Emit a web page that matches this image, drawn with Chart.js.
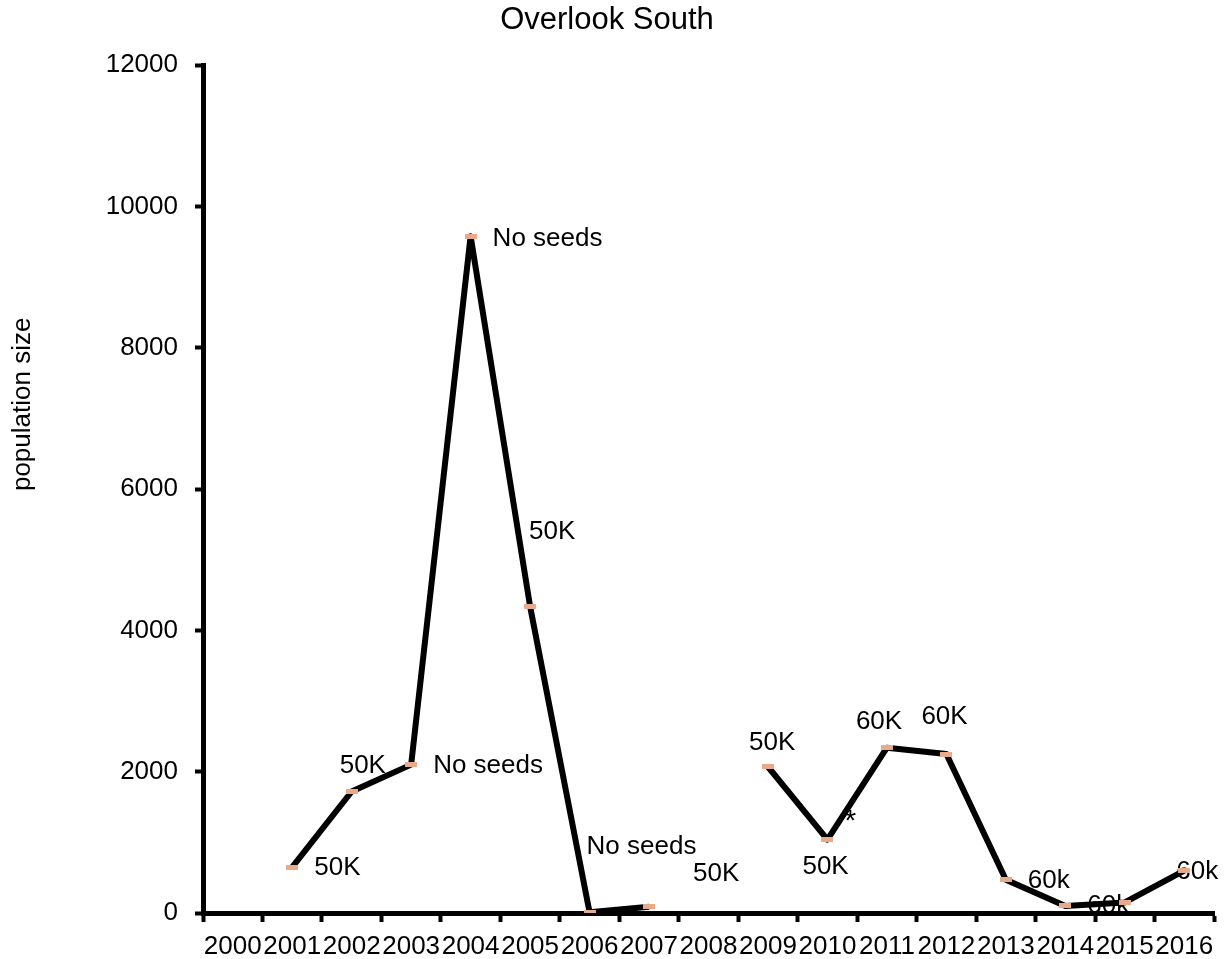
<!DOCTYPE html>
<html lang="en">
<head>
<meta charset="UTF-8" />
<title>Overlook South</title>
<style>
  body {
    margin: 0;
    background: #fff;
  }
  #wrap {
    width: 1231px;
    height: 959px;
    position: relative;
  }
</style>
</head>
<body>

<div id="wrap"><canvas id="chart"></canvas></div>

<script src="https://cdn.jsdelivr.net/npm/chart.js"></script>
<script>
// data
const years = ['2000', '2001', '2002', '2003', '2004', '2005', '2006', '2007', '2008',
  '2009', '2010', '2011', '2012', '2013', '2014', '2015', '2016'];
const population = [null, 650, 1720, 2100, 9580, 4340, 10, 90, null,
  2070, 1040, 2340, 2250, 470, 100, 150, 600];
const seedNotes = ['', '50K', '50K', 'No seeds', 'No seeds', '50K', 'No seeds', '50K', '',
  '50K', '50K', '60K', '60K', '60k', '60k', '', '60k'];
const flagNotes = ['', '', '', '', '', '', '', '', '',
  '', '*', '', '', '', '', '', ''];
const yTicks = [0, 2000, 4000, 6000, 8000, 10000, 12000];

// where each note sits relative to its point (px)
const noteOffsets = {
  1: [22, 1], 2: [-12, -26], 3: [22, 1], 4: [22, 3], 5: [-1, -75],
  6: [-3, -65], 7: [44, -33], 9: [-19, -24], 10: [-25, 27], 11: [-31, -26],
  12: [-25, -37], 13: [22, 1], 14: [22, 0], 16: [-8, 1]
};
const flagOffset = [23, -18];

const FONT = "'Liberation Sans', Arial, sans-serif";
Chart.defaults.font.family = FONT;
Chart.defaults.color = '#000';

// little salmon dash used as the point marker
const dash = document.createElement('canvas');
dash.width = 12;
dash.height = 5;
const dctx = dash.getContext('2d');
dctx.fillStyle = '#E9AA8C';
dctx.fillRect(0, 0, 12, 5);

const notesPlugin = {
  id: 'notes',
  beforeDatasetsDraw(chart) {
    const ctx = chart.ctx;
    const pts = chart.getDatasetMeta(0).data;
    const y = chart.scales.y;
    ctx.save();
    ctx.font = '26px ' + FONT;
    ctx.fillStyle = '#000';
    ctx.textBaseline = 'middle';
    seedNotes.forEach((txt, i) => {
      if (!txt || !noteOffsets[i]) return;
      ctx.textAlign = 'left';
      ctx.fillText(txt, pts[i].x + noteOffsets[i][0], y.getPixelForValue(population[i]) + noteOffsets[i][1]);
    });
    flagNotes.forEach((txt, i) => {
      if (!txt) return;
      ctx.textAlign = 'center';
      ctx.font = '30px ' + FONT;
      ctx.fillText(txt, pts[i].x + flagOffset[0], y.getPixelForValue(population[i]) + flagOffset[1]);
    });
    ctx.restore();
  },
  afterDraw(chart) {
    // y axis title, drawn by hand so it can sit a bit above centre like the original
    const ctx = chart.ctx;
    const area = chart.chartArea;
    ctx.save();
    ctx.font = '26px ' + FONT;
    ctx.fillStyle = '#000';
    ctx.textAlign = 'center';
    ctx.textBaseline = 'middle';
    ctx.translate(23, area.top + (area.bottom - area.top) * 0.4);
    ctx.rotate(-Math.PI / 2);
    ctx.fillText('population size', 0, 0);
    ctx.restore();
  }
};

new Chart(document.getElementById('chart'), {
  type: 'line',
  data: {
    labels: years,
    datasets: [{
      data: population,
      borderColor: '#000',
      borderWidth: 6,
      borderJoinStyle: 'round',
      tension: 0,
      spanGaps: false,
      pointStyle: dash,
      pointRadius: 6,
      pointHoverRadius: 6
    }]
  },
  options: {
    responsive: true,
    maintainAspectRatio: false,
    animation: false,
    layout: { padding: { left: 0, right: 17, top: 0, bottom: 0 } },
    plugins: {
      legend: { display: false },
      tooltip: { enabled: false },
      title: {
        display: true,
        text: 'Overlook South',
        color: '#000',
        font: { size: 31, weight: 'normal' },
        padding: { top: 2, bottom: 26 }
      }
    },
    scales: {
      x: {
        type: 'category',
        offset: true,
        afterFit(scale) {
          scale.height = 46;
        },
        grid: {
          offset: true,
          drawOnChartArea: false,
          drawTicks: true,
          tickLength: 9,
          tickWidth: 4,
          tickColor: '#000'
        },
        border: { display: true, color: '#000', width: 5 },
        ticks: {
          autoSkip: false,
          maxRotation: 0,
          minRotation: 0,
          padding: 17,
          font: { size: 26, lineHeight: 0.6 },
          color: '#000'
        }
      },
      y: {
        min: 0,
        max: 12000,
        afterBuildTicks(scale) {
          scale.ticks = yTicks.map(v => ({ value: v }));
        },
        afterFit(scale) {
          // leave room on the left for the hand-drawn axis title
          scale.width = 203;
        },
        grid: {
          drawOnChartArea: false,
          drawTicks: true,
          tickLength: 8,
          tickWidth: 4,
          tickColor: '#000'
        },
        border: { display: true, color: '#000', width: 5 },
        ticks: {
          padding: 17,
          font: { size: 26 },
          color: '#000',
          callback: v => String(v)
        }
      }
    }
  },
  plugins: [notesPlugin]
});
</script>
</body>
</html>
